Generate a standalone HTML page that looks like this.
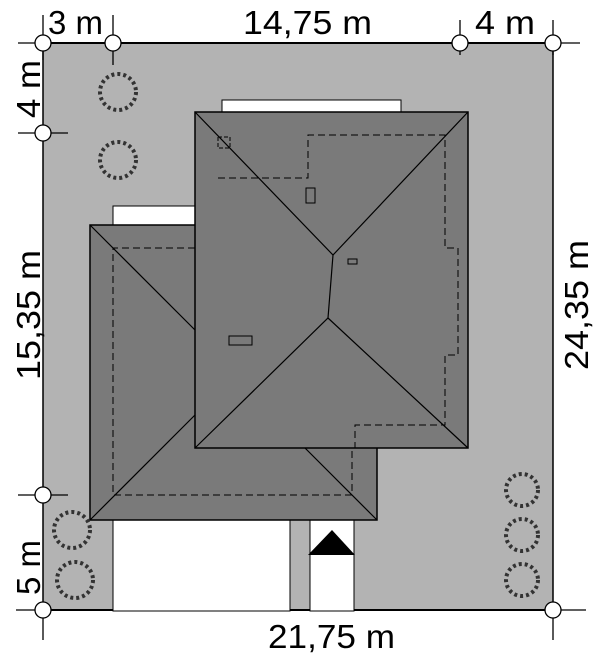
<!DOCTYPE html><html><head><style>body{margin:0;background:#fff}svg{display:block}text{font-family:"Liberation Sans",sans-serif;font-size:33px;fill:#000}</style></head><body>
<svg width="600" height="662" viewBox="0 0 600 662">
<rect x="43" y="43" width="510" height="567" fill="#b3b3b3"/>
<line x1="43" y1="43" x2="553" y2="43" stroke="#000" stroke-width="2"/>
<line x1="43" y1="43" x2="43" y2="610" stroke="#000" stroke-width="1.5"/>
<line x1="553" y1="43" x2="553" y2="610" stroke="#000" stroke-width="1.5"/>
<line x1="43" y1="610" x2="553" y2="610" stroke="#000" stroke-width="2"/>
<rect x="222" y="100" width="179" height="12" fill="#fff" stroke="#000"/>
<rect x="113" y="206" width="82" height="19" fill="#fff" stroke="#000"/>
<rect x="113" y="520" width="177" height="91" fill="#fff" stroke="#000"/>
<rect x="310" y="520" width="44" height="91" fill="#fff" stroke="#000"/>
<polygon points="308,555 355,555 332,530" fill="#000"/>
<rect x="90" y="225" width="287" height="295" fill="#7a7a7a" stroke="#000" stroke-width="1.5"/>
<g stroke="#000" stroke-width="1.2"><line x1="90" y1="225" x2="200" y2="335"/><line x1="90" y1="520" x2="200" y2="410"/><line x1="377" y1="520" x2="305" y2="448"/></g>
<polyline points="195,248 113,248 113,495 352,495 352,448" fill="none" stroke="#000" stroke-dasharray="7,4"/>
<rect x="195" y="112" width="273" height="336" fill="#7a7a7a" stroke="#000" stroke-width="1.5"/>
<g stroke="#000" stroke-width="1.2" fill="none"><polyline points="195,112 333,255 468,112"/><line x1="333" y1="255" x2="328" y2="318"/><polyline points="195,448 328,318 468,448"/></g>
<polyline points="218,178 308,178 308,135 445,135 445,248 458,248 458,355 445,355 445,425 355,425 355,448" fill="none" stroke="#000" stroke-dasharray="7,4"/>
<polyline points="218,137 230,137 230,148 218,148 218,137" fill="none" stroke="#000" stroke-dasharray="4,2"/>
<rect x="306" y="188" width="9" height="15" fill="none" stroke="#000"/>
<rect x="348" y="259" width="9" height="5" fill="none" stroke="#000"/>
<rect x="229" y="336" width="23" height="9" fill="none" stroke="#000"/>
<g fill="none" stroke="#333" stroke-width="4" stroke-dasharray="3,3">
<circle cx="118" cy="92" r="18"/><circle cx="118" cy="160" r="18"/><circle cx="72" cy="530" r="18"/><circle cx="75" cy="580" r="18"/><circle cx="522" cy="490" r="16"/><circle cx="522" cy="535" r="16"/><circle cx="522" cy="580" r="16"/></g>
<g stroke="#000" stroke-width="1.3"><line x1="43" y1="15" x2="43" y2="60"/><line x1="113" y1="15" x2="113" y2="65"/><line x1="460" y1="20" x2="460" y2="55"/><line x1="553" y1="20" x2="553" y2="55"/><line x1="18" y1="133" x2="68" y2="133"/><line x1="18" y1="495" x2="68" y2="495"/><line x1="16" y1="610" x2="70" y2="610"/><line x1="43" y1="610" x2="43" y2="640"/><line x1="530" y1="610" x2="586" y2="610"/><line x1="553" y1="610" x2="553" y2="640"/><line x1="18" y1="43" x2="70" y2="43"/><line x1="530" y1="43" x2="580" y2="43"/></g>
<g fill="#fff" stroke="#000" stroke-width="1.3"><circle cx="43" cy="43" r="8"/><circle cx="113" cy="43" r="8"/><circle cx="460" cy="43" r="8"/><circle cx="553" cy="43" r="8"/><circle cx="43" cy="133" r="8"/><circle cx="43" cy="495" r="8"/><circle cx="43" cy="610" r="8"/><circle cx="553" cy="610" r="8"/></g>
<text x="48" y="34">3 m</text><text x="243" y="34" textLength="129" lengthAdjust="spacingAndGlyphs">14,75 m</text><text x="475" y="34" textLength="60" lengthAdjust="spacingAndGlyphs">4 m</text>
<text x="268" y="648" textLength="127" lengthAdjust="spacingAndGlyphs">21,75 m</text>
<text transform="translate(40,118) rotate(-90)" textLength="58" lengthAdjust="spacingAndGlyphs">4 m</text>
<text transform="translate(40,380) rotate(-90)" textLength="130" lengthAdjust="spacingAndGlyphs">15,35 m</text>
<text transform="translate(40,595) rotate(-90)">5 m</text>
<text transform="translate(588,370) rotate(-90)" textLength="130" lengthAdjust="spacingAndGlyphs">24,35 m</text>
</svg></body></html>
